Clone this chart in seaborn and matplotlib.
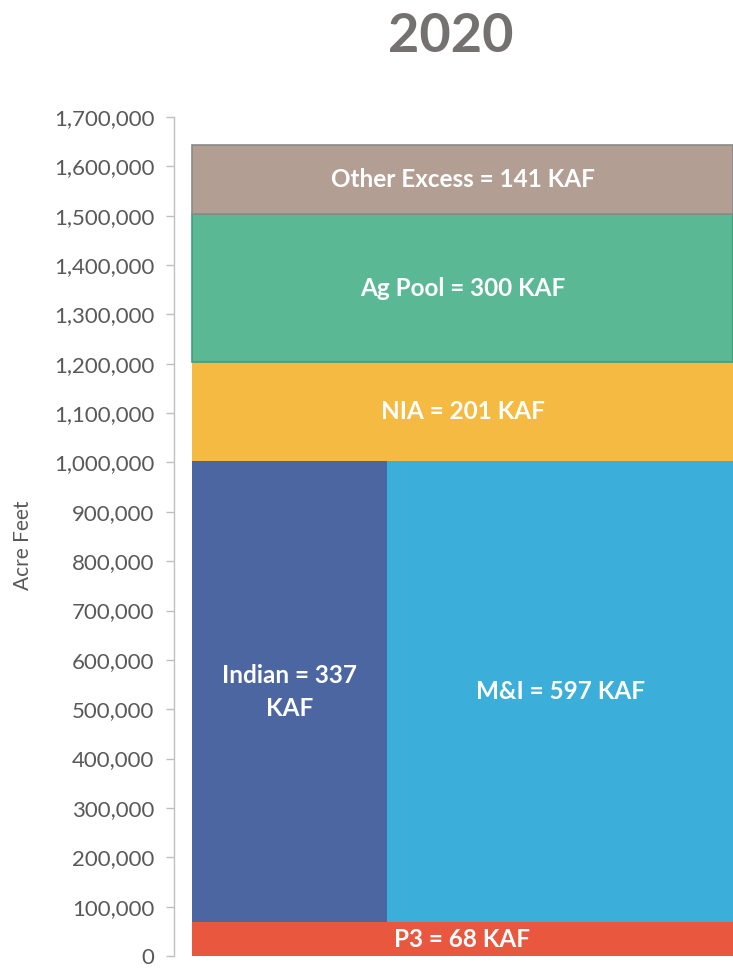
import matplotlib
matplotlib.use("Agg")
import matplotlib.pyplot as plt
import seaborn as sns
import pandas as pd
from matplotlib.ticker import FuncFormatter

# ---- data (KAF) ----
categories = ["P3", "Indian", "M&I", "NIA", "Ag Pool", "Other Excess"]
values_kaf = [68, 337, 597, 201, 300, 141]
colors = ["#E8573E", "#4B66A0", "#3BAED9", "#F5BA41", "#5AB994", "#B39E93"]
year_title = "2020"
y_ticks = list(range(0, 1700001, 100000))

sns.set_theme(style="white")
plt.rcParams['font.family'] = ['Lato', 'DejaVu Sans']

df = pd.DataFrame({"name": categories, "kaf": values_kaf, "color": colors})
v = dict(zip(df["name"], df["kaf"]))
total_w = v["Indian"] + v["M&I"]

# layout of blocks (x, width, bottom, height) in data units derived from values
blocks = {}
blocks["P3"] = (0, total_w, 0, v["P3"])
mid_h = v["Indian"] + v["M&I"]
blocks["Indian"] = (0, v["Indian"], v["P3"], mid_h)
blocks["M&I"] = (v["Indian"], v["M&I"], v["P3"], mid_h)
b = v["P3"] + mid_h
blocks["NIA"] = (0, total_w, b, v["NIA"]); b += v["NIA"]
blocks["Ag Pool"] = (0, total_w, b, v["Ag Pool"]); b += v["Ag Pool"]
blocks["Other Excess"] = (0, total_w, b, v["Other Excess"])

edges = {"Other Excess": ("#8a8a8a", 1.2), "Ag Pool": ("#3f9e7a", 1.2)}

fig = plt.figure(figsize=(7.33, 9.69), dpi=100)
ax = fig.add_axes([174/733, 1-956/969, 1-174/733, (956-117)/969])

for _, row in df.iterrows():
    name = row["name"]
    x, w, bot, h = blocks[name]
    ec, lw = edges.get(name, ("none", 0))
    ax.bar(x, h*1000, width=w, bottom=bot*1000, align="edge",
           color=row["color"], edgecolor=ec, linewidth=lw, zorder=2)
    if name == "Indian":
        txt = f"Indian = {row['kaf']}\nKAF"
    else:
        txt = f"{name} = {row['kaf']} KAF"
    ax.text(x + w/2, (bot + h/2)*1000, txt, ha="center", va="center",
            color="white", fontsize=17.5, fontweight="bold", linespacing=1.5, zorder=3)

ax.set_xlim(-31, total_w)
ax.set_ylim(0, 1700000)
ax.set_yticks(y_ticks)
ax.yaxis.set_major_formatter(FuncFormatter(lambda val, p: f"{int(val):,}"))
ax.set_xticks([])
ax.tick_params(axis="y", left=True, length=6, width=1, color="#bfbfbf",
               labelsize=16, labelcolor="#595959", pad=8)
sns.despine(ax=ax, top=True, right=True, bottom=True)
ax.spines["left"].set_color("#bfbfbf")
ax.spines["left"].set_linewidth(1)

fig.text(23/733, 1-545/969, "Acre Feet", rotation=90, ha="center", va="center",
         fontsize=15, color="#595959")
fig.text(451/733, 1-36/969, year_title, ha="center", va="center",
         fontsize=39, fontweight="bold", color="#757171")

fig.savefig("out.png", dpi=100)
